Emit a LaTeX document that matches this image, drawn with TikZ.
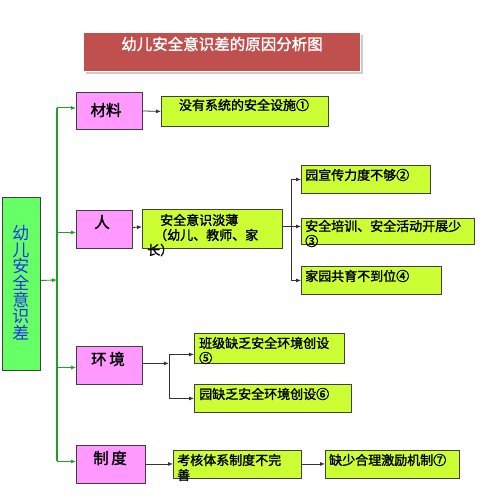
\documentclass[tikz,border=0pt]{standalone}
\usepackage{fontspec}
\setmainfont{Noto Sans CJK SC}
\newfontfamily\cjk{Noto Sans CJK SC}
\newfontfamily\cjkb[FakeBold=1.6]{Noto Sans CJK SC}
\usetikzlibrary{arrows.meta,calc}
\definecolor{titlered}{HTML}{C0504D}
\definecolor{pinkbox}{HTML}{FF99FF}
\definecolor{limebox}{HTML}{CCFF33}
\definecolor{greenbox}{HTML}{66FF66}
\definecolor{greenline}{HTML}{22A022}
\definecolor{bordergray}{HTML}{404040}
\definecolor{textblue}{HTML}{2233EE}
\tikzset{
  boxbase/.style={draw=bordergray, line width=0.9pt, anchor=north west, inner sep=0pt},
  pinkb/.style={boxbase, fill=pinkbox},
  limeb/.style={boxbase, fill=limebox},
  txt/.style={inner sep=0pt, font=\cjkb\fontsize{13}{13}\selectfont, anchor=west},
  ptxt/.style={inner sep=0pt, font=\cjkb\fontsize{15.5}{15.5}\selectfont},
  blk/.style={draw=black!80, line width=0.8pt, -{Latex[length=5pt,width=4pt]}},
  blkline/.style={draw=black!80, line width=0.8pt},
  grn/.style={line width=0.9pt, -{Latex[length=5pt,width=4pt]}, color=greenline},
}
\newcommand{\bx}[6]{% name, style, x1, y1, x2, y2
  \node[#2, minimum width={(#5-#3)*1pt}, minimum height={(#6-#4)*1pt}] (#1) at (#3,#4) {};}
\begin{document}
\begin{tikzpicture}[x=1pt,y=-1pt]
\useasboundingbox (0,0) rectangle (498,500);
% title
\fill[gray!40] (86,35) rectangle (363,74);
\node[draw=white, line width=1.2pt, fill=titlered, anchor=north west, minimum width=277pt, minimum height=39pt, inner sep=0pt] (title) at (83,32) {};
\node[inner sep=0pt, text=white, font=\cjkb\fontsize{15.5}{15.5}\selectfont] (ttext) at (222,44) {幼儿安全意识差的原因分析图};
% left green box
\bx{root}{boxbase, fill=greenbox}{2}{197}{40}{370}
\node[inner sep=0pt, text=textblue, align=center, font=\cjk\fontsize{17}{16.7}\selectfont, anchor=north] (rtext) at (21,225) {幼\\儿\\安\\全\\意\\识\\差};
% pink boxes
\bx{matl}{pinkb}{76}{92}{142}{129}
\node[ptxt] (matlt) at (106,110) {材料};
\bx{ren}{pinkb}{76}{210}{132}{248}
\node[ptxt] (rent) at (102,222) {人};
\bx{env}{pinkb}{76}{346}{142}{384}
\node[ptxt] (envt) at (108,359) {环\,境};
\bx{sys}{pinkb}{76}{445}{145}{483}
\node[ptxt] (syst) at (110,458) {制\,度};
% lime boxes
\bx{m1}{limeb}{161}{96}{328}{126}
\node[txt, anchor=center] (m1t) at (244,105) {没有系统的安全设施①};
\bx{aq}{limeb}{142}{209}{282}{248}
\node[txt] (aqt1) at (160,220) {安全意识淡薄};
\node[txt] (aqt2) at (154,235) {（幼儿、教师、家};
\node[txt] (aqt3) at (147,250) {长）};
\bx{b2}{limeb}{301}{165}{430}{193}
\node[txt] (b2t) at (305,175) {园宣传力度不够②};
\bx{b3}{limeb}{301}{218}{474}{244}
\node[txt] (b3t) at (305,226) {安全培训、安全活动开展少};
\node[txt] (b3c) at (305,241) {③};
\bx{b4}{limeb}{301}{266}{441}{294}
\node[txt] (b4t) at (305,276) {家园共育不到位④};
\bx{e1}{limeb}{194}{333}{344}{363}
\node[txt] (e1t) at (199,343) {班级缺乏安全环境创设};
\node[txt] (e1c) at (199,358) {⑤};
\bx{e2}{limeb}{194}{384}{351}{412}
\node[txt] (e2t) at (199,394) {园缺乏安全环境创设⑥};
\bx{z1}{limeb}{173}{450}{301}{478}
\node[txt] (z1t) at (177,460) {考核体系制度不完};
\node[txt] (z1c) at (177,475) {善};
\bx{z2}{limeb}{325}{450}{459}{478}
\node[txt] (z2t) at (329,460) {缺少合理激励机制⑦};
% green trunk
\coordinate (trunk) at (57,280);
\draw[greenline, line width=2pt] ($(matl.west)+(-19,-3)$) -- ($(sys.west)+(-19,-3)$);
\draw[grn] ($(root.east)+(0,-3.5)$) -- (trunk);
\draw[grn] ($(matl.west)+(-19,-3)$) -- ($(matl.west)+(0,-3)$);
\draw[grn] ($(ren.west)+(-19,3)$) -- ($(ren.west)+(0,3)$);
\draw[grn] ($(env.west)+(-19,2)$) -- ($(env.west)+(0,2)$);
\draw[grn] ($(sys.west)+(-19,-3)$) -- ($(sys.west)+(0,-3)$);
% black connectors
\draw[blk] (matl.east) -- (m1.west);
\draw[blk] ($(ren.east)+(0,-2)$) -- ($(aq.west)+(0,-2)$);
\coordinate (j1) at ($(aq.east)+(8,-2.5)$);
\draw[blkline] ($(aq.east)+(0,-2.5)$) -- (j1);
\draw[blk] (j1) |- (b2.west);
\draw[blk] (j1) -- (j1 -| b3.west);
\draw[blk] (j1) |- (b4.west);
\coordinate (j2) at ($(env.east)+(26,-2)$);
\draw[blk] ($(env.east)+(0,-2)$) -- (j2);
\draw[blk] (j2) |- ($(e1.west)+(0,6)$);
\draw[blk] (j2) |- (e2.west);
\draw[blk] ($(sys.east)+(0,-0.5)$) -- ($(z1.west)+(0,-0.5)$);
\draw[blk] ($(z1.east)+(0,-0.5)$) -- ($(z2.west)+(0,-0.5)$);
\end{tikzpicture}
\end{document}
